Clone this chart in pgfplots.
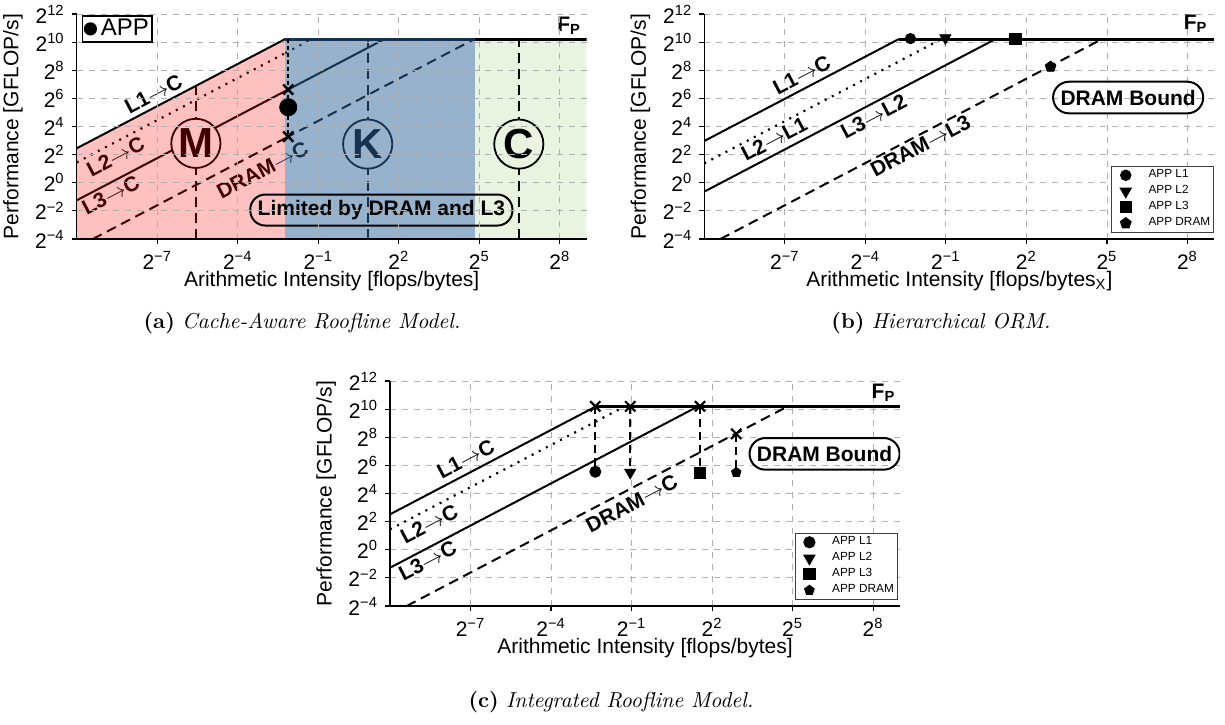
\documentclass[border=0pt]{standalone}
\usepackage{fontspec}
\setmainfont{Liberation Sans}
\newfontfamily\capfont{Latin Modern Roman}
\usepackage{pgfplots}
\pgfplotsset{compat=1.18}

\definecolor{pinkfill}{RGB}{255,192,192}
\definecolor{bluefill}{RGB}{150,178,204}
\definecolor{greenfill}{RGB}{232,243,224}
\definecolor{dred}{RGB}{64,0,0}
\definecolor{navy}{RGB}{22,50,80}
\definecolor{gridgray}{RGB}{176,176,176}

\newcommand{\ar}{$\rightarrow$}

\pgfplotsset{
  roof/.style={
    scale only axis, width=255pt, height=112.5pt,
    anchor=south west,
    xmin=-10, xmax=9, ymin=-4, ymax=12,
    axis x line*=bottom, axis y line*=left,
    axis line style={-, black, line width=0.7pt},
    xtick={-7,-4,-1,2,5,8},
    xticklabels={{2\textsuperscript{−7}},{2\textsuperscript{−4}},{2\textsuperscript{−1}},{2\textsuperscript{2}},{2\textsuperscript{5}},{2\textsuperscript{8}}},
    ytick={-4,-2,0,2,4,6,8,10,12},
    yticklabels={{2\textsuperscript{−4}},{2\textsuperscript{−2}},{2\textsuperscript{0}},{2\textsuperscript{2}},{2\textsuperscript{4}},{2\textsuperscript{6}},{2\textsuperscript{8}},{2\textsuperscript{10}},{2\textsuperscript{12}}},
    tick align=outside, major tick length=2.5pt,
    tick style={black, line width=0.6pt},
    grid=major, grid style={dashed, gridgray, line width=0.4pt},
    tick label style={font=\fontsize{10.5}{12}\selectfont},
    label style={font=\fontsize{10.5}{12}\selectfont},
    ylabel={Performance [GFLOP/s]},
    ylabel style={at={(axis description cs:-0.125,0.5)}, anchor=center},
    xlabel style={at={(axis description cs:0.5,-0.187)}, anchor=center},
    legend cell align=left,
  },
  smallleg/.style={
    legend style={font=\fontsize{5.9}{7}\selectfont, draw=black!75,
      line width=0.5pt, row sep=1.2pt, inner sep=1.2pt,
      nodes={inner sep=0.6pt}},
    legend image code/.code={%
      \draw[draw=none] (0cm,-1pt) rectangle (0.58cm,1pt);
      \draw[##1] plot coordinates {(0.2cm,0cm)};},
  },
}
\tikzset{
  lbl/.style={font=\bfseries\fontsize{10.5}{12}\selectfont, rotate=27.7, inner sep=0pt},
  bound/.style={draw=black, line width=1pt, rounded corners=7.5pt,
    font=\bfseries\fontsize{10.5}{12}\selectfont, inner xsep=3.7pt,
    inner ysep=0pt, minimum height=15.5pt},
  fp/.style={anchor=south east, inner sep=0pt, font=\bfseries\fontsize{10.5}{12}\selectfont},
  ln/.style={line width=1pt},
  rf/.style={line width=1.5pt},
  dsh/.style={line width=1pt, dash pattern=on 5pt off 3pt},
  dtt/.style={line width=1.1pt, dash pattern=on 1pt off 3pt},
  vdsh/.style={line width=1pt, dash pattern=on 4pt off 2.5pt},
  bigc/.style={circle, line width=0.9pt, minimum size=24.6pt, inner sep=0pt,
    font=\bfseries\fontsize{21}{24}\selectfont},
}

\begin{document}
\begin{tikzpicture}
\useasboundingbox (0,0) rectangle (612.5pt,-362pt);

% ---------------- (a) Cache-Aware Roofline Model
\begin{axis}[roof, at={(38.35pt,-119.5pt)}, axis on top,
  xlabel={Arithmetic Intensity [flops/bytes]},
  legend style={at={(axis description cs:0.01,0.995)}, anchor=north west,
    draw=black, line width=0.8pt, font=\fontsize{12}{13}\selectfont, inner sep=0.4pt,
    nodes={inner sep=1.2pt}},
  legend image code/.code={\draw[draw=none] (-3.5pt,-1pt) rectangle (4pt,1pt);
    \fill[black] (0pt,0pt) circle (2.9pt);}]
\addplot[fill=pinkfill, draw=none, forget plot] coordinates {(-10,-4) (-10,2.45) (-2.23,10.22) (-2.23,-4)} -- cycle;
\addplot[fill=bluefill, draw=none, forget plot] coordinates {(-2.23,-4) (-2.23,10.22) (4.82,10.22) (4.82,-4)} -- cycle;
\addplot[fill=greenfill, draw=none, forget plot] coordinates {(4.82,-4) (4.82,10.22) (9,10.22) (9,-4)} -- cycle;
% ceilings
\addplot[ln, black, forget plot] coordinates {(-10,2.45) (-2.23,10.22)};
\addplot[dtt, dred, forget plot] coordinates {(-10,1.45) (-2.23,9.22)};
\addplot[dtt, navy, forget plot] coordinates {(-2.23,9.22) (-1.23,10.22)};
\addplot[ln, dred, forget plot] coordinates {(-10,-1.25) (-2.23,6.52)};
\addplot[ln, navy, forget plot] coordinates {(-2.23,6.52) (1.47,10.22)};
\addplot[dsh, dred, forget plot] coordinates {(-9.4,-4) (-2.23,3.17)};
\addplot[dsh, navy, forget plot] coordinates {(-2.23,3.17) (4.82,10.22)};
\addplot[rf, navy, forget plot] coordinates {(-2.23,10.22) (4.82,10.22)};
\addplot[rf, black, forget plot] coordinates {(4.82,10.22) (9,10.22)};
% region guides
\addplot[dsh, dred, forget plot] coordinates {(-5.56,-4) (-5.56,6.89)};
\addplot[dsh, navy, forget plot] coordinates {(0.84,-4) (0.84,10.22)};
\addplot[dsh, black, forget plot] coordinates {(6.47,-4) (6.47,10.22)};
% application
\addplot[black, line width=1.1pt, dash pattern=on 2pt off 1.5pt, forget plot] coordinates {(-2.12,10.22) (-2.12,3.28)};
\addplot[only marks, mark=x, mark size=3.6pt, line width=1.2pt, black, forget plot] coordinates {(-2.12,6.63) (-2.12,3.28)};
\addplot[only marks, mark=*, mark size=4.3pt, black] coordinates {(-2.12,5.37)};
\addlegendentry{APP}
\node[bigc, draw=dred, fill=pinkfill, text=dred] at (-5.56,2.8) {M};
\node[bigc, draw=navy, fill=bluefill, text=navy] at (0.84,2.75) {K};
\node[bigc, draw=black, fill=greenfill, text=black] at (6.47,2.75) {C};
\node[lbl] at (-7.14,6.31) {L1\ar C};
\node[lbl, text=dred] at (-8.55,1.85) {L2\ar C};
\node[lbl, text=dred] at (-8.73,-0.87) {L3\ar C};
\node[lbl] at (-3.08,0.91) {\textcolor{dred}{DRAM}\textcolor{navy}{\ar C}};
\node[bound] at (1.35,-1.94) {Limited by DRAM and L3};
\node[fp] at (8.8,10.5) {F\textsubscript{P}};
\end{axis}

% ---------------- (b) Hierarchical ORM
\begin{axis}[roof, smallleg, at={(352.15pt,-119.5pt)},
  xlabel={Arithmetic Intensity [flops/bytes\textsubscript{X}]},
  legend style={at={(axis description cs:1,0.027)}, anchor=south east}]
\addplot[ln, black, forget plot] coordinates {(-10,2.97) (-2.75,10.22)};
\addplot[dtt, black, forget plot] coordinates {(-10,1.38) (-1.16,10.22)};
\addplot[ln, black, forget plot] coordinates {(-10,-0.63) (0.85,10.22)};
\addplot[dsh, black, forget plot] coordinates {(-9.4,-4) (4.82,10.22)};
\addplot[rf, black, forget plot] coordinates {(-2.75,10.22) (9,10.22)};
\addplot[only marks, mark=*, mark size=2.6pt, black] coordinates {(-2.32,10.25)};
\addlegendentry{APP L1}
\addplot[only marks, mark=triangle*, mark options={rotate=180}, mark size=3.2pt, black] coordinates {(-1.02,10.3)};
\addlegendentry{APP L2}
\addplot[only marks, mark=square*, mark size=2.8pt, black] coordinates {(1.59,10.22)};
\addlegendentry{APP L3}
\addplot[only marks, mark=pentagon*, mark size=2.8pt, black] coordinates {(2.9,8.25)};
\addlegendentry{APP DRAM}
\node[lbl] at (-6.37,7.66) {L1\ar C};
\node[lbl] at (-7.4,3.11) {L2\ar L1};
\node[lbl] at (-3.69,4.7) {L3\ar L2};
\node[lbl] at (-1.95,2.61) {DRAM\ar L3};
\node[bound, rounded corners=7.9pt, minimum height=15.8pt] at (5.79,6.06) {DRAM Bound};
\node[fp] at (8.76,10.63) {F\textsubscript{P}};
\end{axis}

% ---------------- (c) Integrated Roofline Model
\begin{axis}[roof, smallleg, at={(195pt,-303pt)},
  xlabel={Arithmetic Intensity [flops/bytes]},
  legend style={at={(axis description cs:0.996,0.027)}, anchor=south east}]
\addplot[ln, black, forget plot] coordinates {(-10,2.52) (-2.32,10.2)};
\addplot[dtt, black, forget plot] coordinates {(-10,1.45) (-1.25,10.2)};
\addplot[ln, black, forget plot] coordinates {(-10,-1.28) (1.48,10.2)};
\addplot[dsh, black, forget plot] coordinates {(-9.38,-4) (4.82,10.2)};
\addplot[rf, black, forget plot] coordinates {(-2.32,10.2) (9,10.2)};
\addplot[vdsh, black, forget plot] coordinates {(-2.35,10.2) (-2.35,5.55)};
\addplot[vdsh, black, forget plot] coordinates {(-1.05,10.2) (-1.05,5.5)};
\addplot[vdsh, black, forget plot] coordinates {(1.55,10.2) (1.55,5.45)};
\addplot[vdsh, black, forget plot] coordinates {(2.9,8.24) (2.9,5.5)};
\addplot[only marks, mark=x, mark size=3.6pt, line width=1.1pt, black, forget plot] coordinates {(-2.35,10.2) (-1.05,10.2) (1.55,10.2) (2.9,8.24)};
\addplot[only marks, mark=*, mark size=2.8pt, black] coordinates {(-2.35,5.55)};
\addlegendentry{APP L1}
\addplot[only marks, mark=triangle*, mark options={rotate=180}, mark size=3.2pt, black] coordinates {(-1.05,5.5)};
\addlegendentry{APP L2}
\addplot[only marks, mark=square*, mark size=2.8pt, black] coordinates {(1.55,5.45)};
\addlegendentry{APP L3}
\addplot[only marks, mark=pentagon*, mark size=2.5pt, black] coordinates {(2.9,5.5)};
\addlegendentry{APP DRAM}
\node[lbl] at (-7.18,6.46) {L1\ar C};
\node[lbl] at (-8.54,1.83) {L2\ar C};
\node[lbl] at (-8.6,-0.78) {L3\ar C};
\node[lbl] at (-1.0,3.29) {DRAM\ar C};
\node[bound, rounded corners=7.9pt, minimum height=15.8pt] at (6.19,6.82) {DRAM Bound};
\node[fp] at (8.84,10.53) {F\textsubscript{P}};
\end{axis}

% captions
\node[font=\capfont\fontsize{10.8}{12}\selectfont] at (151pt,-161.5pt) {\textbf{(a)} \textit{Cache-Aware Roofline Model.}};
\node[font=\capfont\fontsize{10.8}{12}\selectfont] at (470.5pt,-161.5pt) {\textbf{(b)} \textit{Hierarchical ORM.}};
\node[font=\capfont\fontsize{10.8}{12}\selectfont] at (305.5pt,-351pt) {\textbf{(c)} \textit{Integrated Roofline Model.}};
\end{tikzpicture}
\end{document}
